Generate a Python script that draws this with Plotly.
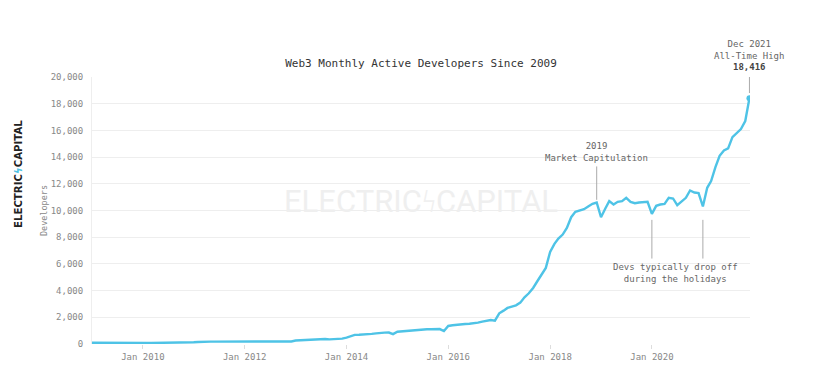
import plotly.graph_objects as go
import pandas as pd

# Monthly active developers, Jan 2009 - Dec 2021
v2009 = [90, 85, 80, 80, 75, 75, 70, 70, 70, 70, 65, 65]
v2010 = [70, 70, 75, 75, 80, 80, 85, 85, 90, 95, 100, 95]
v2011 = [130, 150, 170, 175, 175, 180, 180, 185, 180, 185, 190, 175]
v2012 = [195, 200, 200, 205, 205, 210, 210, 205, 210, 215, 210, 190]
v2013 = [260, 280, 300, 320, 340, 360, 380, 370, 350, 360, 380, 400]
v2014 = [480, 560, 680, 690, 700, 720, 760, 800, 840, 850, 860, 740]
v2015 = [920, 950, 980, 1000, 1020, 1050, 1080, 1100, 1100, 1110, 1120, 970]
v2016 = [1350, 1400, 1450, 1470, 1500, 1520, 1550, 1600, 1680, 1720, 1800, 1750]
v2017 = [2300, 2500, 2700, 2800, 2900, 3100, 3500, 3800, 4200, 4700, 5200, 5700]
v2018 = [6900, 7500, 7900, 8200, 8700, 9500, 9900, 10000, 10100, 10300, 10500, 10600]
v2019 = [9500, 10150, 10700, 10450, 10650, 10700, 10950, 10650, 10550, 10600, 10600, 10650]
v2020 = [9750, 10350, 10450, 10500, 10950, 10900, 10400, 10700, 10950, 11500, 11350, 11300]
v2021 = [10300, 11700, 12200, 13250, 14100, 14500, 14650, 15500, 15800, 16100, 16700, 18416]

values = (v2009 + v2010 + v2011 + v2012 + v2013 + v2014 + v2015 + v2016
          + v2017 + v2018 + v2019 + v2020 + v2021)
dates = pd.date_range("2009-01-01", periods=len(values), freq="MS")

peak_date = dates[-1]
peak_value = values[-1]

title_text = "Web3 Monthly Active Developers Since 2009"
mono = "DejaVu Sans Mono"
line_color = "#4ec3e6"

fig = go.Figure()
fig.add_trace(go.Scatter(x=dates, y=values, mode="lines",
                         line=dict(color=line_color, width=2.4),
                         hoverinfo="skip", showlegend=False))
fig.add_trace(go.Scatter(x=[peak_date], y=[peak_value], mode="markers",
                         marker=dict(color=line_color, size=6),
                         hoverinfo="skip", showlegend=False))

ann_font = dict(family=mono, size=9, color="#666")

# watermark
fig.add_annotation(x=0.5, y=0.535, xref="paper", yref="paper",
                   text="ELECTRIC<span style='color:#f0f0f0'>ϟ</span>CAPITAL",
                   showarrow=False,
                   font=dict(family="Roboto", size=31, color="#efefef"))

# logo on left
fig.add_annotation(x=-0.123, y=0.635, xref="paper", yref="paper",
                   text="<b>ELECTRIC<span style='color:#4ec3e6'>ϟ</span>CAPITAL</b>",
                   showarrow=False, textangle=-90,
                   font=dict(family="DejaVu Sans", size=10.2, color="#222"))

# Market capitulation
cap_date = pd.Timestamp("2018-12-01")
fig.add_shape(type="line", x0=cap_date, x1=cap_date, y0=10800, y1=13300,
              xref="x", yref="y", line=dict(color="#aaa", width=1))
fig.add_annotation(x=cap_date, y=13400, xref="x", yref="y", yanchor="bottom",
                   text="2019<br>Market Capitulation", showarrow=False,
                   font=ann_font)

# Holidays
for d in ["2020-01-01", "2021-01-01"]:
    fig.add_shape(type="line", x0=pd.Timestamp(d), x1=pd.Timestamp(d),
                  y0=6400, y1=9300, xref="x", yref="y",
                  line=dict(color="#aaa", width=1))
fig.add_annotation(x=pd.Timestamp("2020-06-20"), y=6300, xref="x", yref="y",
                   yanchor="top",
                   text="Devs typically drop off<br>during the holidays",
                   showarrow=False, font=ann_font)

# All time high
fig.add_shape(type="line", x0=peak_date, x1=peak_date, y0=18800, y1=20150,
              xref="x", yref="y", line=dict(color="#aaa", width=1))
fig.add_annotation(x=peak_date, y=1.01, xref="x", yref="paper", yanchor="bottom",
                   text="Dec 2021<br>All-Time High<br><b><span style='color:#444'>"
                        + f"{peak_value:,}" + "</span></b>",
                   showarrow=False, font=ann_font)

fig.update_layout(
    width=809, height=366,
    margin=dict(l=84, r=67, t=69, b=30),
    paper_bgcolor="white", plot_bgcolor="white",
    title=dict(text=title_text, x=0.5, xanchor="center", xref="paper",
               y=1 - 55 / 366, yanchor="middle",
               font=dict(family=mono, size=11, color="#333")),
    xaxis=dict(range=["2009-01-01", "2021-12-05"], tickformat="%b %Y",
               tick0="2010-01-01", dtick="M24", showgrid=False,
               ticks="outside", ticklen=4, tickcolor="#ddd",
               showline=False, zeroline=False,
               tickfont=dict(family=mono, size=9, color="#888")),
    yaxis=dict(range=[0, 20000], dtick=2000, tickformat=",d",
               gridcolor="#eeeeee", showline=True, linecolor="#eeeeee",
               zeroline=False, ticks="", ticklabelstandoff=6,
               title=dict(text="Developers", standoff=1,
                          font=dict(family=mono, size=8.5, color="#888")),
               tickfont=dict(family=mono, size=9, color="#888")),
)

fig.write_html("out.html")
